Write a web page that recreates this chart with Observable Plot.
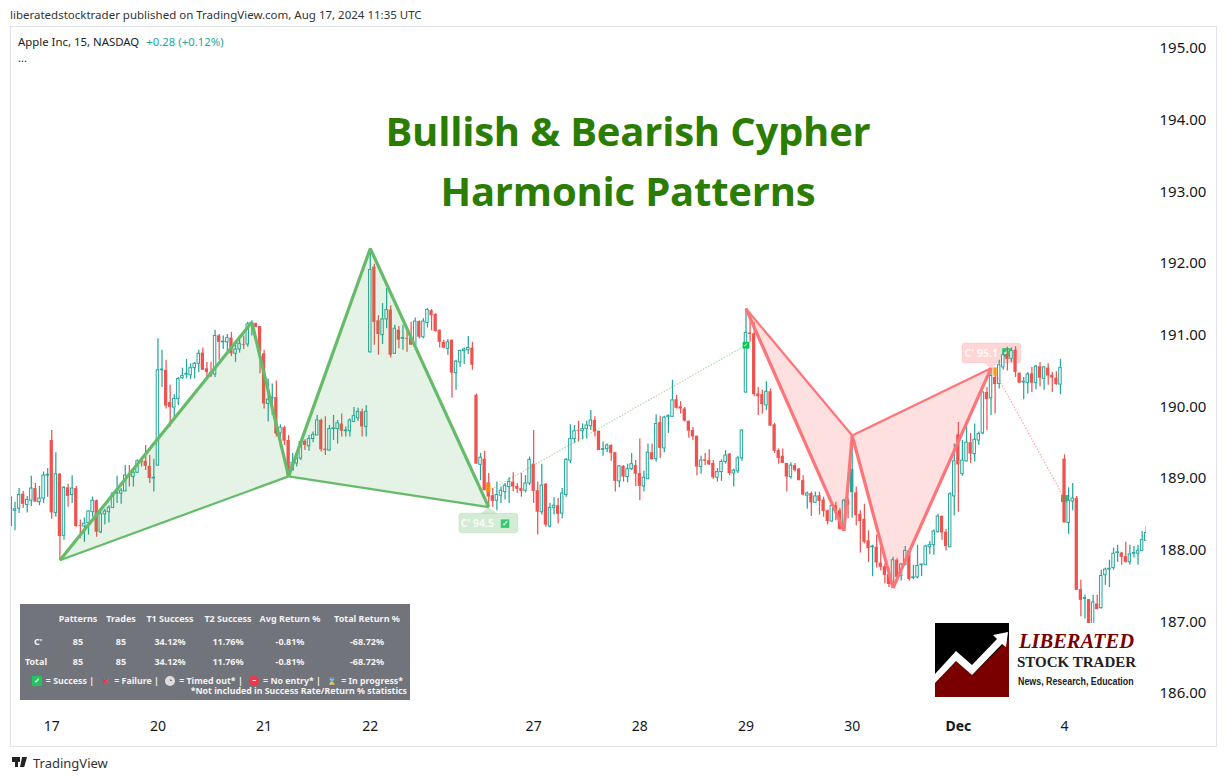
<!DOCTYPE html>
<html><head><meta charset="utf-8">
<script src="https://cdn.jsdelivr.net/npm/d3@7"></script>
<script src="https://cdn.jsdelivr.net/npm/@observablehq/plot@0.6"></script>
<style>
html,body{margin:0;padding:0;background:#fff}
#page{position:relative;width:1226px;height:781px;overflow:hidden;font-family:"Noto Sans",sans-serif;color:#131722}
#page>svg{position:absolute;left:0;top:0}
.abs{position:absolute;white-space:nowrap}
#frame{position:absolute;left:10px;top:26px;width:1205px;height:719px;border:1px solid #e0e3eb;pointer-events:none}
.title{position:absolute;left:628px;transform:translate(-50%,-50%);font:bold 40px "Open Sans",sans-serif;letter-spacing:-0.2px;color:#2a7d00;white-space:nowrap}
#tbl{position:absolute;left:20px;top:604px;width:390px;height:96px;background:#72747c;color:#f2f2f2;font:bold 9px "Noto Sans",sans-serif}
#tbl span.c{position:absolute;transform:translate(-50%,-50%);white-space:nowrap}
#tbl .l{position:absolute;right:3px;transform:translateY(-50%);white-space:nowrap;line-height:10px;height:10px;font-size:8.8px}
.ic{display:inline-block;vertical-align:top;text-align:center;margin:0 4px}
#logo{position:absolute;left:935px;top:623px;width:205px;height:74px;background:#fff}
#logo div{position:absolute}
</style></head><body>
<div id="page"></div>
<script>
const opens=[
188.74,188.55,188.58,188.78,188.63,188.69,188.86,188.67,188.72,189.04,
189.53,188.52,189.06,188.20,188.87,188.77,188.86,188.34,188.33,188.38,
188.53,188.69,188.25,188.50,188.53,188.59,188.79,188.79,188.82,189.04,
189.02,189.08,189.25,189.24,189.17,189.00,189.18,190.51,190.51,190.06,
189.99,190.11,190.40,190.45,190.44,190.54,190.60,190.75,190.53,190.48,
190.45,190.99,190.90,190.90,190.96,190.74,190.80,190.87,190.87,191.15,
191.16,191.12,190.74,190.04,190.12,190.13,189.63,189.71,189.53,189.11,
189.21,189.28,189.52,189.45,189.55,189.60,189.81,189.41,189.39,189.69,
189.69,189.76,189.66,189.66,189.79,189.84,189.93,189.72,190.76,191.95,
191.20,191.00,191.22,191.35,190.74,191.07,190.95,190.95,190.96,190.86,
191.19,190.97,191.17,191.34,191.29,191.07,190.90,190.81,190.93,190.47,
190.62,190.78,190.79,190.82,190.16,189.19,189.27,188.94,188.76,188.69,
188.76,188.81,188.88,188.95,188.89,188.86,188.83,188.93,189.20,188.83,
188.53,188.92,188.33,188.59,188.62,188.51,188.77,189.25,189.55,189.67,
189.66,189.69,189.73,189.81,189.66,189.40,189.41,189.46,189.36,188.96,
189.17,189.02,189.13,189.18,189.07,188.89,188.99,189.36,189.27,189.78,
189.42,189.86,189.86,190.10,190.00,189.97,189.80,189.67,189.59,189.16,
189.26,189.25,189.21,189.01,189.09,189.23,189.34,189.07,189.10,189.28,
190.20,191.03,191.02,190.18,190.17,190.02,190.21,189.75,189.39,189.31,
189.21,189.02,189.18,189.13,188.97,188.76,188.79,188.66,188.76,188.70,
188.55,188.40,188.62,188.55,188.28,188.69,188.81,188.80,188.50,188.43,
188.13,188.04,188.04,187.82,187.77,187.66,187.53,187.86,187.64,187.79,
187.99,187.61,187.62,187.79,187.79,188.04,188.07,188.25,188.47,188.25,
188.04,188.75,189.61,189.06,189.24,189.50,189.34,189.53,189.63,190.20,
190.12,190.41,190.32,190.55,190.73,190.67,190.79,190.47,190.34,190.33,
190.46,190.33,190.56,190.39,190.54,190.44,190.40,190.31,189.27,188.38,
188.68,188.72,187.45,187.32,187.31,186.95,187.25,187.19,187.65,187.73,
187.75,187.96,187.96,187.91,187.83,187.95,187.95,187.99,188.13];
const highs=[
188.75,188.67,188.86,188.82,188.75,189.03,188.93,188.89,189.09,189.14,
189.67,189.36,189.07,188.89,188.92,189.04,188.89,188.42,188.45,188.55,
188.74,188.70,188.53,188.57,188.62,188.80,189.03,188.86,189.18,189.18,
189.14,189.26,189.27,189.46,189.32,189.27,190.95,190.79,190.65,190.30,
190.17,190.41,190.54,190.66,190.60,190.62,190.79,190.82,190.62,190.62,
191.07,191.01,190.99,191.01,191.04,190.86,190.99,190.99,191.18,191.20,
191.17,191.12,190.79,190.39,190.32,190.36,189.75,189.73,189.60,189.35,
189.35,189.53,189.54,189.60,189.65,189.88,189.83,189.86,189.74,189.88,
189.81,189.90,189.72,189.83,189.99,189.98,189.97,190.02,192.21,191.99,
191.27,191.44,191.65,191.41,191.14,191.12,191.14,191.09,191.18,191.24,
191.20,191.23,191.37,191.36,191.30,191.07,190.93,190.94,190.93,190.65,
190.79,190.82,190.98,190.90,190.18,189.35,189.38,189.07,188.86,188.95,
188.88,188.93,189.01,189.08,188.93,189.07,189.04,189.30,189.67,188.95,
189.20,188.93,188.65,188.73,188.72,188.86,189.28,189.75,189.74,189.80,
189.76,189.80,189.95,189.86,189.66,189.51,189.48,189.47,189.36,189.18,
189.18,189.20,189.35,189.25,189.55,189.10,189.48,189.48,189.89,189.87,
189.87,189.89,190.37,190.16,190.07,189.99,189.80,189.71,189.59,189.31,
189.35,189.40,189.25,189.14,189.26,189.39,189.35,189.13,189.31,189.68,
191.37,191.30,191.18,190.27,190.23,190.35,190.25,189.77,189.41,189.41,
189.21,189.22,189.21,189.14,189.04,188.81,188.81,188.81,188.81,188.74,
188.56,188.65,188.67,188.58,188.71,188.72,189.60,188.88,188.55,188.64,
188.27,188.07,188.21,188.04,187.81,187.75,187.90,187.88,187.81,188.05,
188.00,187.79,188.07,187.80,188.07,188.12,188.28,188.50,188.48,188.29,
188.80,189.48,189.78,189.53,189.78,189.63,189.76,189.65,190.21,190.27,
190.54,190.54,190.65,190.79,190.83,190.82,190.84,190.47,190.41,190.48,
190.55,190.58,190.62,190.56,190.60,190.48,190.49,190.66,189.33,188.87,
188.93,188.75,187.58,187.37,187.31,187.37,187.37,187.72,187.75,187.86,
188.03,188.07,187.97,188.11,188.07,188.05,188.07,188.26,188.33];
const lows=[
188.33,188.27,188.51,188.58,188.52,188.61,188.67,188.62,188.65,188.74,
188.43,188.46,187.86,188.14,188.60,188.65,188.32,188.16,188.11,188.21,
188.46,188.18,188.23,188.35,188.38,188.58,188.65,188.64,188.81,188.88,
188.88,189.07,189.16,189.11,188.93,188.81,189.17,190.27,189.97,189.72,
189.82,190.02,190.38,190.39,190.38,190.39,190.48,190.51,190.38,190.41,
190.41,190.65,190.80,190.76,190.70,190.62,190.75,190.80,190.83,190.99,
191.10,190.46,189.97,189.79,189.88,189.58,189.44,189.46,189.03,189.11,
189.16,189.25,189.39,189.38,189.50,189.60,189.37,189.32,189.38,189.53,
189.48,189.58,189.58,189.58,189.78,189.80,189.58,189.58,190.75,190.86,
190.72,190.87,191.09,190.68,190.73,190.81,190.79,190.76,190.86,190.86,
190.95,190.95,191.10,191.06,191.04,190.82,190.81,190.72,190.12,190.23,
190.55,190.59,190.73,190.51,189.20,188.97,188.83,188.60,188.60,188.55,
188.65,188.70,188.65,188.81,188.79,188.74,188.80,188.90,188.65,188.21,
188.49,188.32,188.31,188.49,188.37,188.44,188.74,189.21,189.49,189.51,
189.54,189.55,189.67,189.58,189.39,189.31,189.36,189.24,188.81,188.87,
188.95,188.94,189.11,188.89,188.69,188.81,188.99,189.26,189.23,189.28,
189.36,189.63,189.86,189.97,189.90,189.79,189.56,189.53,189.04,189.06,
189.18,189.18,188.99,188.95,188.96,189.20,189.04,188.88,189.07,189.24,
190.19,190.90,190.14,189.88,189.90,189.95,189.73,189.35,189.20,189.21,
188.81,188.99,189.09,188.97,188.76,188.57,188.47,188.65,188.49,188.46,
188.35,188.39,188.41,188.28,188.27,188.44,188.45,188.34,187.96,188.09,
187.83,187.63,187.75,187.71,187.53,187.48,187.48,187.62,187.57,187.79,
187.57,187.59,187.60,187.63,187.79,187.94,187.93,188.24,188.14,187.99,
188.04,188.48,188.53,189.03,189.23,189.21,189.23,189.46,189.61,189.67,
189.88,189.90,190.25,190.51,190.50,190.62,190.41,190.33,190.10,190.18,
190.20,190.24,190.28,190.23,190.30,190.20,190.30,190.17,188.38,188.22,
188.55,187.44,187.07,187.04,186.90,186.90,187.17,187.18,187.51,187.48,
187.72,187.83,187.79,187.82,187.79,187.89,187.79,187.99,188.12];
const closes=[
188.33,188.57,188.77,188.64,188.70,188.86,188.67,188.72,189.04,189.05,
188.52,189.06,188.19,188.87,188.75,188.86,188.33,188.33,188.37,188.54,
188.69,188.25,188.50,188.54,188.59,188.79,188.80,188.83,189.04,189.02,
189.08,189.24,189.22,189.17,189.00,189.01,190.51,190.52,190.01,189.99,
190.11,190.39,190.43,190.46,190.54,190.60,190.74,190.51,190.48,190.43,
190.99,190.90,190.91,190.96,190.74,190.80,190.88,190.86,191.15,191.17,
191.11,190.77,190.04,190.10,190.13,189.62,189.71,189.52,189.04,189.22,
189.28,189.51,189.46,189.55,189.61,189.81,189.40,189.39,189.69,189.70,
189.77,189.66,189.67,189.81,189.87,189.93,189.72,189.93,191.91,191.18,
191.01,191.22,191.35,190.72,191.09,190.93,190.96,190.94,190.86,191.19,
190.97,191.19,191.35,191.27,191.05,190.90,190.82,190.90,190.47,190.63,
190.78,190.80,190.82,190.58,189.20,189.29,188.83,188.74,188.68,188.77,
188.83,188.90,188.95,188.88,188.85,188.82,188.93,189.26,188.82,188.53,
188.90,188.35,188.59,188.62,188.50,188.79,189.26,189.55,189.66,189.66,
189.69,189.74,189.81,189.65,189.39,189.41,189.46,189.35,188.96,189.17,
189.02,189.13,189.20,189.06,188.89,189.01,189.36,189.26,189.76,189.42,
189.85,189.87,190.09,189.98,189.97,189.80,189.66,189.58,189.16,189.25,
189.24,189.19,189.01,189.09,189.23,189.32,189.07,189.11,189.28,189.67,
191.03,191.01,190.17,190.14,190.03,190.21,189.73,189.38,189.28,189.21,
189.02,189.18,189.11,188.97,188.77,188.79,188.66,188.75,188.68,188.54,
188.40,188.62,188.55,188.29,188.69,188.63,189.12,188.48,188.40,188.11,
188.02,188.05,187.82,187.76,187.65,187.52,187.86,187.62,187.80,187.99,
187.59,187.62,187.78,187.80,188.05,188.07,188.26,188.47,188.24,188.05,
188.78,189.24,189.19,189.25,189.50,189.34,189.54,189.62,190.20,190.10,
190.43,190.31,190.58,190.72,190.66,190.78,190.48,190.33,190.35,190.45,
190.33,190.56,190.40,190.55,190.43,190.40,190.31,190.54,188.38,188.69,
188.72,187.44,187.30,187.33,186.95,187.27,187.17,187.64,187.73,187.74,
187.95,187.97,187.90,187.83,187.94,187.96,187.99,188.14,188.24];
const solidBars=[206];

const priceTicks=[186,187,188,189,190,191,192,193,194,195];
const dateTickBars=[10,36,62,88,128,154,180,206,258];
const dateTickLabels=["17","20","21","22","27","28","29","30","4"];
const monthTickBars=[232];
const monthTickLabels=["Dec"];

// Harmonic pivots: bar index and price
const bullBars=[12,59,68,88,117];
const bullPrices=[187.86,191.18,189.03,192.21,188.60];
const bearBars=[180,204,206,216,240];
const bearPrices=[191.37,188.27,189.60,187.47,190.54];

const bullColor="#66bb6a", bearColor="#ff7478";
const up="#26a69a", down="#ef5350";

const candles=opens.map((o,i)=>({i,o,h:highs[i],l:lows[i],c:closes[i]}));
const pt=(bars,prices,k)=>({x:bars[k],y:prices[k]});
const tri=(bars,prices,a,b,c,group)=>[a,b,c].map(k=>({...pt(bars,prices,k),group}));
const seg=(bars,prices,a,b,w)=>({x1:bars[a],y1:prices[a],x2:bars[b],y2:prices[b],w});
const bullTris=[...tri(bullBars,bullPrices,0,1,2,"a"),...tri(bullBars,bullPrices,2,3,4,"b")];
const bearTris=[...tri(bearBars,bearPrices,0,1,2,"a"),...tri(bearBars,bearPrices,2,3,4,"b")];
const bullSegs=[seg(bullBars,bullPrices,0,1,3.2),seg(bullBars,bullPrices,1,2,3.2),seg(bullBars,bullPrices,2,3,3.2),seg(bullBars,bullPrices,3,4,3.2),seg(bullBars,bullPrices,0,2,2.2),seg(bullBars,bullPrices,2,4,2.2)];
const bearSegs=[seg(bearBars,bearPrices,0,1,3.2),seg(bearBars,bearPrices,1,2,3.2),seg(bearBars,bearPrices,2,3,3.2),seg(bearBars,bearPrices,3,4,3.2),seg(bearBars,bearPrices,0,2,2.2),seg(bearBars,bearPrices,2,4,2.2)];

// Trade paths, entry boxes and result tags
const bullTrade={x1:117,y1:188.83,x2:180,y2:190.86};
const bearTrade={x1:241,y1:190.48,x2:258,y2:188.72};
const entryBoxes=[{x1:116.5,x2:117.6,y1:188.80,y2:188.93},{x1:240.5,x2:241.7,y1:190.43,y2:190.545}];
const tags=[
 {x1:109.8,x2:124.3,y1:188.233,y2:188.51,fill:"#4caf50",label:"C' 94.5",lx:114.2,ly:188.37,cx:121,cy:188.37,tip:[[115,188.51],[119,188.51],[117,188.60]]},
 {x1:233,x2:247.4,y1:190.605,y2:190.884,fill:"#ff5252",label:"C' 95.1",lx:237.6,ly:190.745,cx:243.8,cy:190.76,tip:[[238.3,190.605],[241.7,190.605],[240,190.54]]}
];
const hitsOver=[{x:180,y:190.86}];
const hitsUnder=[{x:258,y:188.72}];

const font='"Noto Sans",sans-serif';
const chart=Plot.plot({
  width:1226,height:781,marginLeft:10,marginRight:80,marginTop:27,marginBottom:69,
  style:{fontFamily:font,background:"transparent",color:"#131722"},
  x:{domain:[-0.1,278.07],axis:null},
  y:{domain:[185.735,195.293],axis:null},
  marks:[
    Plot.axisY({anchor:"right",ticks:priceTicks,tickFormat:d=>d.toFixed(2),tickSize:0,tickPadding:13,fontSize:15,label:null,textAnchor:"start"}),
    Plot.axisX({ticks:dateTickBars,tickFormat:d=>dateTickLabels[dateTickBars.indexOf(d)],tickSize:0,tickPadding:9,fontSize:14,label:null}),
    Plot.axisX({ticks:monthTickBars,tickFormat:d=>monthTickLabels[monthTickBars.indexOf(d)],tickSize:0,tickPadding:9,fontSize:14,fontWeight:"bold",label:null}),
    // result tags (behind candles)
    Plot.rect(tags,{x1:"x1",x2:"x2",y1:"y1",y2:"y2",fill:"fill",fillOpacity:0.24,stroke:"fill",strokeOpacity:0.1,rx:3}),
    Plot.line(tags[0].tip,{x:d=>d[0],y:d=>d[1],fill:tags[0].fill,fillOpacity:0.24,stroke:"none"}),
    Plot.line(tags[1].tip,{x:d=>d[0],y:d=>d[1],fill:tags[1].fill,fillOpacity:0.24,stroke:"none"}),
    Plot.text(tags,{x:"lx",y:"ly",text:"label",fill:"#fff",fontSize:10.5,fontWeight:"bold",fillOpacity:0.85}),
    Plot.dot(tags,{x:"cx",y:"cy",symbol:"square",r:4.8,fill:"#2ecc71",stroke:"none"}),
    Plot.text(tags,{x:"cx",y:"cy",text:()=>"\u2713",fill:"#fff",fontSize:8,fontWeight:"bold"}),
    Plot.dot(hitsUnder,{x:"x",y:"y",symbol:"square",r:4,fill:"#22c55e",stroke:"none"}),
    // candles
    Plot.ruleX(candles,{x:"i",y1:"l",y2:"h",stroke:d=>d.c>=d.o?up:down,strokeWidth:1.25,clip:true}),
    Plot.rect(candles.filter(d=>d.c<d.o),{x1:d=>d.i-0.4,x2:d=>d.i+0.4,y1:"o",y2:"c",fill:down,clip:true}),
    Plot.rect(candles.filter(d=>d.c>=d.o),{x1:d=>d.i-0.3,x2:d=>d.i+0.3,y1:"o",y2:"c",fill:d=>solidBars.includes(d.i)?up:"#fff",stroke:up,strokeWidth:1,clip:true}),
    // harmonic patterns
    Plot.line(bullTris,{x:"x",y:"y",z:"group",fill:"#4caf50",fillOpacity:0.15,stroke:"none"}),
    Plot.line(bearTris,{x:"x",y:"y",z:"group",fill:"#ff5252",fillOpacity:0.18,stroke:"none"}),
    Plot.link([bullTrade],{x1:"x1",y1:"y1",x2:"x2",y2:"y2",stroke:"#4caf50",strokeOpacity:0.45,strokeWidth:1.2,strokeDasharray:"1.5 1.5"}),
    Plot.link([bearTrade],{x1:"x1",y1:"y1",x2:"x2",y2:"y2",stroke:"#ff5252",strokeOpacity:0.5,strokeWidth:1.2,strokeDasharray:"1.5 1.5"}),
    Plot.link(bullSegs,{x1:"x1",y1:"y1",x2:"x2",y2:"y2",stroke:bullColor,strokeWidth:"w"}),
    Plot.link(bearSegs,{x1:"x1",y1:"y1",x2:"x2",y2:"y2",stroke:bearColor,strokeWidth:"w"}),
    Plot.rect(entryBoxes,{x1:"x1",x2:"x2",y1:"y1",y2:"y2",fill:"#ff9800",fillOpacity:0.7}),
    Plot.dot(hitsOver,{x:"x",y:"y",symbol:"square",r:3.8,fill:"#00c853",stroke:"none"}),
    Plot.text(hitsOver,{x:"x",y:"y",text:()=>"\u2713",fill:"#fff",fontSize:6})
  ]
});
const page=document.getElementById("page");
page.appendChild(chart);

function add(html){const t=document.createElement("div");t.innerHTML=html;while(t.firstChild)page.appendChild(t.firstChild);}

// header, legend, title, frame
add(`<div id="frame"></div>
<div class="abs" style="left:10px;top:6px;font-size:11.5px;line-height:17px;color:#333">liberatedstocktrader published on TradingView.com, Aug 17, 2024 11:35 UTC</div>
<div class="abs" style="left:18px;top:34px;font-size:11.4px;line-height:16px;color:#222">Apple Inc, 15, NASDAQ <span style="color:#26a69a;margin-left:4px">+0.28 (+0.12%)</span></div>
<div class="abs" style="left:18px;top:50px;font-size:11px;line-height:16px;color:#222">...</div>
<div class="title" style="top:130px">Bullish &amp; Bearish Cypher</div>
<div class="title" style="top:190px">Harmonic Patterns</div>`);

// statistics table
const colCenters=[78,121,170,228,290,367];
const headers=["Patterns","Trades","T1 Success","T2 Success","Avg Return %","Total Return %"];
const rowNames=["C'","Total"];
const rowCenters=[38,36];
const rowValues=["85","85","34.12%","11.76%","-0.81%","-68.72%"];
let tbl='<div id="tbl">';
headers.forEach((h,k)=>tbl+=`<span class="c" style="left:${colCenters[k]-20}px;top:14px">${h}</span>`);
rowNames.forEach((n,r)=>{
  const top=37+r*19.5;
  tbl+=`<span class="c" style="left:${rowCenters[r]-20}px;top:${top}px">${n}</span>`;
  rowValues.forEach((v,k)=>tbl+=`<span class="c" style="left:${colCenters[k]-20}px;top:${top}px">${v}</span>`);
});
const icon=(bg,txt,col,extra="")=>`<span class="ic" style="width:10px;height:10px;line-height:10px;font-size:7px;background:${bg};color:${col};${extra}">${txt}</span>`;
tbl+=`<div class="l" style="top:77px;right:7px">${icon("#22c55e","\u2713","#fff","border-radius:1px")}= Success | ${icon("transparent","\u2715","#f23645","font-size:8px;font-weight:bold")}= Failure | ${icon("#ddd","\u25D4","#555","border-radius:50%")}= Timed out* | ${icon("#f23645","\u2212","#fff","border-radius:50%")}= No entry* | ${icon("transparent","\u231B","#e8b54a","font-size:8px")}= In progress*</div>
<div class="l" style="top:87px">*Not included in Success Rate/Return % statistics</div></div>`;
add(tbl);

// publisher logo
add(`<div id="logo">
<div style="left:0;top:0;width:74px;height:74px;background:#000"></div>
<div style="left:0;top:0;width:74px;height:74px;background:#7a0000;clip-path:polygon(0 60px,21px 38px,37px 52px,70px 20px,74px 15px,74px 74px,0 74px)"></div>
<div style="left:0;top:0;width:74px;height:74px;background:#fff;clip-path:polygon(0 51px,21px 28px,37px 42px,62px 16px,58px 12px,73px 9px,71px 24px,67px 21px,37px 52px,21px 38px,0 60px)"></div>
<div style="left:84px;top:5px;font:italic bold 20.5px/26px 'Liberation Serif',serif;color:#7a0000;white-space:nowrap">LIBERATED</div>
<div style="left:82px;top:30px;font:bold 15px/18px 'Liberation Serif',serif;color:#222;white-space:nowrap">STOCK TRADER</div>
<div style="left:83px;top:51px;font:bold 11.5px/15px 'Liberation Sans',sans-serif;color:#222;white-space:nowrap;transform:scaleX(.77);transform-origin:0 50%">News, Research, Education</div>
</div>`);

// footer
add(`<div class="abs" style="left:12px;top:757px;width:8px;height:5px;background:#222"></div>
<div class="abs" style="left:15px;top:760px;width:3px;height:7px;background:#222"></div>
<div class="abs" style="left:20px;top:757px;width:7px;height:10px;background:#222;clip-path:polygon(30% 0,100% 0,60% 100%,0 100%)"></div>
<div class="abs" style="left:33px;top:755px;font-size:13px;line-height:17px;color:#333">TradingView</div>`);
</script>
</body></html>
